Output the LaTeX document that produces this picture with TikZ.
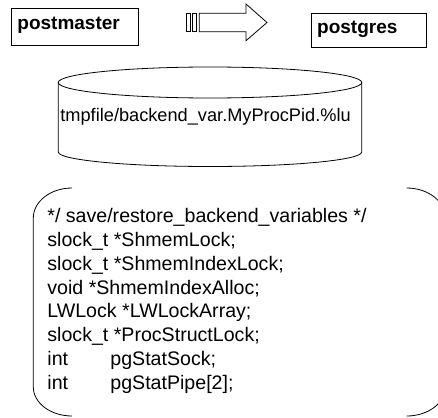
\documentclass[tikz,border=0pt]{standalone}
\usepackage{fontspec}
\setmainfont{Liberation Sans}
\usetikzlibrary{positioning}

\begin{document}
\begin{tikzpicture}[x=1pt, y=1pt, line width=0.8pt]
    \useasboundingbox (0,0) rectangle (438,-417);
    \clip (0,0) rectangle (438,-417);

    %-----Processes-----
    % Postmaster Box
    \node [rectangle, draw, anchor=north west, inner xsep=6pt, text width=115pt, minimum height=37pt, text height=10pt, text depth=5pt, align=left, font=\fontsize{19}{19}\selectfont\bfseries] (postmaster) at (11,-8) {postmaster};

    % Postgres Box
    \node [rectangle, draw, right=172pt of postmaster, yshift=-3.5pt, inner xsep=6pt, text width=103pt, minimum height=34pt, text height=11pt, text depth=5pt, align=left, font=\fontsize{19}{19}\selectfont\bfseries] (postgres) {postgres};

    % Fork Arrow
    \draw (186.7,-13.3) rectangle (190.7,-31.7);
    \draw (192.7,-13.3) rectangle (196.7,-31.7);
    \draw (199.3,-13.3) -- (246,-13.3) -- (246,-4) -- (267,-22.5) -- (246,-40.7) -- (246,-31.7) -- (199.3,-31.7) -- cycle;

    %-----Temp File-----
    \draw (210,-82.5) ellipse [x radius=151.7, y radius=15.5];
    \draw (58.3,-82.5) -- (58.3,-152) arc [start angle=180, end angle=360, x radius=151.7, y radius=14.5] -- (361.7,-82.5);
    \node [anchor=base west, inner sep=0, font=\fontsize{18.2}{18.2}\selectfont] (tmpfile) at (60,-121) {tmpfile/backend\_var.MyProcPid.\%lu};

    %-----Variables-----
    % (base anchor sits on the last line)
    \node [anchor=base west, inner sep=0, align=left, font=\fontsize{19.6}{23.8}\selectfont] (vars) at (47,-389.3) {%
        */ save/restore\_backend\_variables */ \\
        slock\_t *ShmemLock; \\
        slock\_t *ShmemIndexLock; \\
        void *ShmemIndexAlloc; \\
        LWLock *LWLockArray; \\
        slock\_t *ProcStructLock; \\
        \makebox[63pt][l]{int}pgStatSock; \\
        \makebox[63pt][l]{int}pgStatPipe[2];
    };

    % Bracket
    \draw (72,-188) arc [start angle=90, end angle=180, x radius=38.7, y radius=30] -- (33.3,-387) arc [start angle=180, end angle=270, x radius=38.7, y radius=29];
    \draw (406.7,-188) arc [start angle=90, end angle=0, x radius=38.7, y radius=30] -- (445.4,-387) arc [start angle=0, end angle=-90, x radius=38.7, y radius=29];

\end{tikzpicture}
\end{document}
